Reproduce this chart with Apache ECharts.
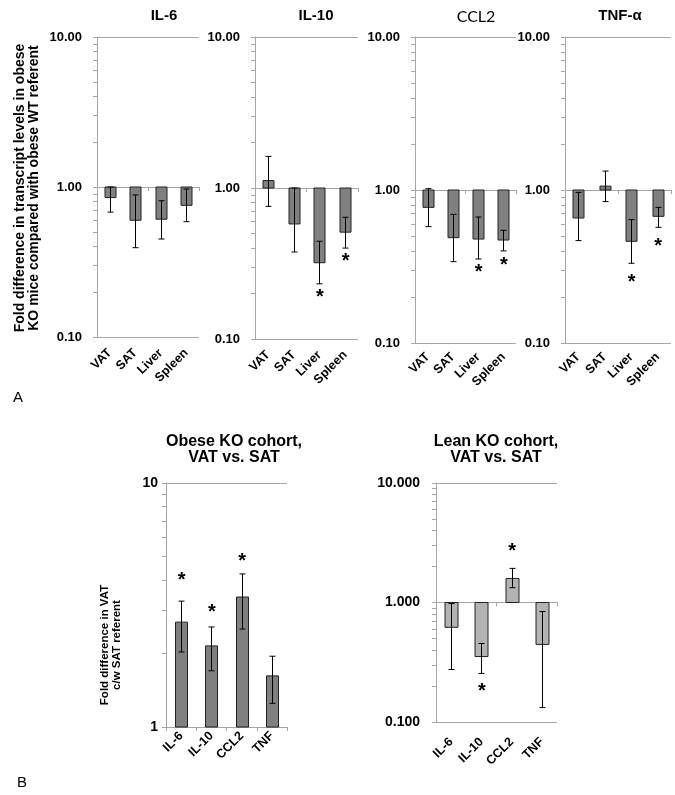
<!DOCTYPE html>
<html><head><meta charset="utf-8">
<script src="https://cdn.jsdelivr.net/npm/echarts@6/dist/echarts.min.js"></script>
<style>html,body{margin:0;padding:0;background:#fff}#c{width:675px;height:795px}</style>
</head><body><div id="c"></div><script>
// ---------- data ----------
const tissues = ['VAT', 'SAT', 'Liver', 'Spleen'];
const cytokines = ['IL-6', 'IL-10', 'CCL2', 'TNF'];

// Panel A: fold difference (obese KO vs obese WT), error bar ends, asterisk positions
const il6Val  = [0.85, 0.60, 0.61, 0.755];
const il6Low  = [0.68, 0.394, 0.45, 0.587];
const il6High = [1.00, 0.885, 0.81, 0.97];
const il6Star = [null, null, null, null];

const il10Val  = [1.12, 0.578, 0.32, 0.51];
const il10Low  = [0.756, 0.377, 0.232, 0.40];
const il10High = [1.62, 1.00, 0.444, 0.64];
const il10Star = [null, null, 0.20, 0.348];

const ccl2Val  = [0.77, 0.488, 0.478, 0.471];
const ccl2Low  = [0.576, 0.34, 0.354, 0.40];
const ccl2High = [1.02, 0.693, 0.666, 0.545];
const ccl2Star = [null, null, 0.308, 0.34];

const tnfVal  = [0.656, 1.06, 0.462, 0.673];
const tnfLow  = [0.467, 0.84, 0.332, 0.57];
const tnfHigh = [0.965, 1.33, 0.64, 0.77];
const tnfStar = [null, null, 0.265, 0.455];

// Panel B: VAT vs SAT
const obeseVal  = [2.69, 2.15, 3.41, 1.62];
const obeseLow  = [2.03, 1.70, 2.52, 1.25];
const obeseHigh = [3.28, 2.57, 4.24, 1.95];
const obeseStar = [4.12, 3.07, 4.97, null];

const leanVal  = [0.62, 0.353, 1.59, 0.446];
const leanLow  = [0.275, 0.255, 1.33, 0.132];
const leanHigh = [0.98, 0.454, 1.93, 0.84];
const leanStar = [null, 0.194, 2.89, null];

// tick values (minor + major)
const ticksA = [0.1, 0.2, 0.3, 0.4, 0.5, 0.6, 0.7, 0.8, 0.9, 1, 2, 3, 4, 5, 6, 7, 8, 9, 10];
const ticksObese = [1, 2, 3, 4, 5, 6, 7, 8, 9, 10];

// ---------- layout ----------
const FONT = '"Liberation Sans", Arial, sans-serif';
const GREY = '#a6a6a6';
const panels = [
  {cats:tissues,   val:il6Val,  low:il6Low,  high:il6High,  star:il6Star,  min:0.1, max:10, dec:2, grid:{left:97, top:37, width:102, height:300}, barW:11, color:'#808080', labFs:13, labMargin:15, crossMid:true, xMargin:14},
  {cats:tissues,   val:il10Val, low:il10Low, high:il10High, star:il10Star, min:0.1, max:10, dec:2, grid:{left:255, top:37, width:103, height:302}, barW:11, color:'#808080', labFs:13, labMargin:15, crossMid:true, xMargin:14},
  {cats:tissues,   val:ccl2Val, low:ccl2Low, high:ccl2High, star:ccl2Star, min:0.1, max:10, dec:2, grid:{left:415, top:37, width:101, height:306}, barW:11, color:'#808080', labFs:13, labMargin:15, crossMid:true, xMargin:12},
  {cats:tissues,   val:tnfVal,  low:tnfLow,  high:tnfHigh,  star:tnfStar,  min:0.1, max:10, dec:2, grid:{left:565, top:37, width:106, height:306}, barW:11, color:'#808080', labFs:13, labMargin:15, crossMid:true, xMargin:12},
  {cats:cytokines, val:obeseVal, low:obeseLow, high:obeseHigh, star:obeseStar, min:1, max:10, dec:0, grid:{left:166, top:483, width:121, height:244}, barW:12, color:'#808080', labFs:14, labMargin:8, crossMid:false, xMargin:7},
  {cats:cytokines, val:leanVal, low:leanLow, high:leanHigh, star:leanStar, min:0.1, max:10, dec:3, grid:{left:436, top:483, width:121, height:239}, barW:13, color:'#b3b3b3', labFs:14, labMargin:16, crossMid:true, xMargin:18},
];

const grids = [], xAxes = [], yAxes = [], series = [];

function barRender(barW, color) {
  return function (params, api) {
    const i = api.value(0);
    const base = api.coord([i, 1]);
    const end = api.coord([i, api.value(1)]);
    const pLo = api.coord([i, api.value(2)]);
    const pHi = api.coord([i, api.value(3)]);
    const x = Math.round(base[0]) + 0.5;
    const y0 = Math.min(base[1], end[1]), y1 = Math.max(base[1], end[1]);
    const cap = 3;
    const ls = {stroke:'#000', lineWidth:1};
    return {type:'group', children:[
      {type:'rect', shape:{x:x - barW / 2, y:y0, width:barW, height:y1 - y0}, style:{fill:color, stroke:'#222', lineWidth:1}},
      {type:'line', shape:{x1:x, y1:pLo[1], x2:x, y2:pHi[1]}, style:ls},
      {type:'line', shape:{x1:x - cap, y1:pLo[1], x2:x + cap, y2:pLo[1]}, style:ls},
      {type:'line', shape:{x1:x - cap, y1:pHi[1], x2:x + cap, y2:pHi[1]}, style:ls}
    ]};
  };
}
function starRender(params, api) {
  const p = api.coord([api.value(0), api.value(1)]);
  return {type:'text', x:p[0] + 0.5, y:p[1] + 4, style:{text:'*', font:'bold 20px ' + FONT, fill:'#000', align:'center', verticalAlign:'middle', textAlign:'center', textVerticalAlign:'middle'}};
}

panels.forEach((p, gi) => {
  grids.push(Object.assign({containLabel:false}, p.grid));
  const minor = p.min === 1 ? ticksObese : ticksA;
  const yi = yAxes.length;
  // axis with labels and minor ticks
  yAxes.push({
    type:'log', logBase:10, gridIndex:gi, min:p.min, max:p.max,
    axisLine:{show:true, lineStyle:{color:GREY}},
    axisTick:{show:true, inside:false, length:4, lineStyle:{color:GREY}, customValues:minor},
    axisLabel:{formatter:v => Number(v).toFixed(p.dec), fontSize:p.labFs, fontWeight:'bold', color:'#000', margin:p.labMargin, fontFamily:FONT},
    splitLine:{show:false}
  });
  // companion axis for major gridlines only
  yAxes.push({
    type:'log', logBase:10, gridIndex:gi, min:p.min, max:p.max, position:'left',
    axisLine:{show:false}, axisTick:{show:false}, axisLabel:{show:false},
    splitLine:{show:true, lineStyle:{color:GREY}}
  });
  const xi = xAxes.length;
  xAxes.push({
    type:'category', gridIndex:gi, data:p.cats, position:'bottom',
    axisLine:{show:!p.crossMid, lineStyle:{color:GREY}},
    axisTick:{show:!p.crossMid, length:4, lineStyle:{color:GREY}},
    axisLabel:{rotate:45, interval:0, fontSize:12.5, fontWeight:'bold', color:'#000', margin:p.xMargin, fontFamily:FONT}
  });
  if (p.crossMid) {
    xAxes.push({
      type:'category', gridIndex:gi, data:p.cats, position:'bottom', offset:-p.grid.height / 2,
      axisLine:{show:true, lineStyle:{color:GREY}},
      axisTick:{show:true, length:4, lineStyle:{color:GREY}},
      axisLabel:{show:false}
    });
  }
  series.push({
    type:'custom', coordinateSystem:'cartesian2d', xAxisIndex:xi, yAxisIndex:yi,
    renderItem:barRender(p.barW, p.color),
    data:p.val.map((v, i) => [i, v, p.low[i], p.high[i]]),
    z:3
  });
  series.push({
    type:'custom', coordinateSystem:'cartesian2d', xAxisIndex:xi, yAxisIndex:yi,
    renderItem:starRender,
    data:p.star.map((s, i) => [i, s]).filter(d => d[1] !== null),
    z:4
  });
});

function txt(x, y, text, font, extra) {
  return Object.assign({type:'text', x:x, y:y, style:{text:text, font:font, fill:'#000', align:'center', verticalAlign:'middle', textAlign:'center', textVerticalAlign:'middle'}}, extra || {});
}
const graphics = [
  txt(164, 16, 'IL-6', 'bold 15px ' + FONT),
  txt(316, 16, 'IL-10', 'bold 15px ' + FONT),
  txt(476, 17, 'CCL2', '16px Lato, ' + FONT),
  txt(620, 16, 'TNF-\u03b1', 'bold 15px ' + FONT),
  txt(27, 188, 'Fold difference in transcript levels in obese\nKO mice compared with obese WT referent', 'bold 14px ' + FONT, {rotation:Math.PI / 2}),
  txt(234, 450, 'Obese KO cohort,\nVAT vs. SAT', 'bold 16px ' + FONT),
  txt(496, 450, 'Lean KO cohort,\nVAT vs. SAT', 'bold 16px ' + FONT),
  txt(111, 645, 'Fold difference in VAT\nc/w SAT referent', 'bold 11.5px ' + FONT, {rotation:Math.PI / 2}),
  txt(18, 398, 'A', '15px ' + FONT),
  txt(22, 783, 'B', '15px ' + FONT)
];

const chart = echarts.init(document.getElementById('c'), null, {renderer:'canvas'});
chart.setOption({
  animation:false,
  backgroundColor:'#fff',
  grid:grids, xAxis:xAxes, yAxis:yAxes, series:series,
  graphic:graphics
});
</script></body></html>
